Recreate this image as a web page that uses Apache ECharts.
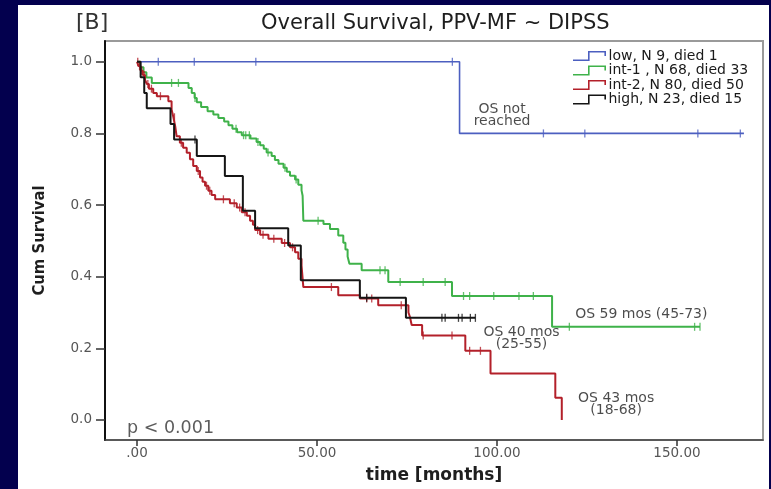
<!DOCTYPE html>
<html>
<head>
<meta charset="utf-8">
<script src="https://cdn.jsdelivr.net/npm/echarts@6/dist/echarts.min.js"></script>
<style>
html,body{margin:0;padding:0;background:#03004e;}
#chart{width:771px;height:489px;}
</style>
</head>
<body>
<div id="chart"></div>
<script>
// ---- data ----
const seriesNames = ['low, N 9, died 1', 'int-1 , N 68, died 33', 'int-2, N 80, died 50', 'high, N 23, died 15'];
const xTickValues = [0, 50, 100, 150];
const xTickLabels = ['.00', '50.00', '100.00', '150.00'];
const yTickValues = [0, 0.2, 0.4, 0.6, 0.8, 1.0];
const yTickLabels = ['0.0', '0.2', '0.4', '0.6', '0.8', '1.0'];

const lowCurve = [[0,1],[89.6,0.8],[168.6,0.8]];
const lowCensor = [[5.9,1],[15.9,1],[33,1],[87.6,1],[112.9,0.8],[124.4,0.8],[155.8,0.8],[167.6,0.8]];

const int1Curve = [[0,1],[0.8,0.985],[1.8,0.971],[2.6,0.956],[4.1,0.941],[14.3,0.927],[15.2,0.913],[16.0,0.899],[16.6,0.887],
  [17.8,0.874],[19.6,0.862],[21.2,0.853],[22.6,0.843],[24.2,0.833],[25.4,0.823],[26.5,0.813],[27.8,0.803],[29.1,0.795],
  [31.5,0.786],[33.2,0.776],[34.2,0.767],[35.2,0.757],[36.0,0.747],[37.4,0.737],[38.3,0.726],[39.3,0.715],[40.7,0.704],
  [41.6,0.693],[42.5,0.682],[43.9,0.671],[44.8,0.657],[45.7,0.641],[46.0,0.626],[46.2,0.556],[51.8,0.547],[53.6,0.533],
  [55.9,0.515],[57.3,0.495],[57.9,0.476],[58.5,0.456],[59.0,0.436],[62.4,0.418],[69.8,0.385],[87.5,0.346],[115.3,0.26],[156.4,0.26]];
const int1Censor = [[9.6,0.941],[11.5,0.941],[16.1,0.899],[27.5,0.813],[29.6,0.795],[30.2,0.795],[31.2,0.795],[33.6,0.776],
  [36.4,0.747],[41.1,0.704],[44.2,0.671],[50.3,0.556],[67.5,0.418],[68.9,0.418],[73.1,0.385],[79.5,0.385],[85.6,0.385],
  [90.7,0.346],[92.4,0.346],[99.1,0.346],[106.1,0.346],[110.1,0.346],[120.1,0.26],[154.9,0.26],[156.4,0.26]];

const int2Curve = [[0,1],[0.4,0.988],[1.0,0.975],[1.6,0.963],[2.2,0.950],[2.7,0.938],[3.3,0.925],[4.5,0.913],[5.5,0.904],
  [8.7,0.890],[9.6,0.867],[10.1,0.845],[10.6,0.820],[11.0,0.792],[11.9,0.774],[12.8,0.760],[13.8,0.746],[14.7,0.728],
  [15.6,0.709],[16.6,0.695],[17.5,0.677],[18.2,0.665],[18.9,0.654],[19.8,0.640],[20.7,0.628],[21.7,0.616],[25.8,0.605],
  [27.7,0.593],[29.1,0.580],[30.5,0.570],[31.4,0.556],[32.2,0.545],[32.8,0.530],[34.2,0.517],[36.5,0.506],[40.2,0.494],
  [42.5,0.482],[43.9,0.468],[44.8,0.450],[45.7,0.431],[46.2,0.371],[55.9,0.348],[61.9,0.339],[67.0,0.320],[75.4,0.300],
  [75.8,0.288],[76.3,0.265],[79.2,0.236],[91.2,0.193],[98.2,0.130],[116.2,0.062],[118.0,0.0]];
const int2Censor = [[0.2,1],[0.7,0.988],[1.3,0.975],[2.0,0.963],[3.0,0.938],[4.0,0.925],[6.5,0.904],[10.4,0.845],[12.3,0.774],
  [17.0,0.695],[19.3,0.654],[20.2,0.640],[24.0,0.616],[27.0,0.605],[28.5,0.593],[30.0,0.580],[33.5,0.530],[35.0,0.517],
  [38.0,0.506],[41.0,0.494],[43.2,0.482],[54.0,0.371],[63.8,0.339],[65.2,0.339],[73.4,0.320],[79.5,0.236],[87.5,0.236],
  [92.4,0.193],[95.4,0.193]];

const highCurve = [[0,1],[1.0,0.957],[2.0,0.913],[2.7,0.870],[9.3,0.826],[10.3,0.783],[16.6,0.737],[24.4,0.681],[29.4,0.584],
  [32.8,0.535],[42.0,0.487],[45.5,0.390],[61.9,0.341],[74.7,0.285],[94.0,0.285]];
const highCensor = [[16.1,0.783],[63.8,0.341],[84.7,0.285],[85.6,0.285],[89.3,0.285],[90.3,0.285],[92.6,0.285],[94.0,0.285]];

const annotations = [
  {text: 'OS not\nreached', t: 101.4, s: 0.851},
  {text: 'OS 59 mos (45-73)', t: 140.1, s: 0.294},
  {text: 'OS 40 mos\n(25-55)', t: 106.8, s: 0.228},
  {text: 'OS 43 mos\n(18-68)', t: 133.1, s: 0.043},
  {text: 'p < 0.001', t: 9.3, s: -0.025}
];

// ---- chart ----
const colors = ['#4c5fc0', '#3fb24a', '#b3202a', '#151515'];
const curves = [lowCurve, int1Curve, int2Curve, highCurve];
const censors = [lowCensor, int1Censor, int2Censor, highCensor];
const FONT = '"DejaVu Sans", "Liberation Sans", Arial, sans-serif';

const iconPath = 'path://M0,8.4 L15,8.4 L15,0 L33,0 L33,5 L31.4,5 L31.4,1.6 L16.6,1.6 L16.6,10 L0,10 Z';

const series = [];
curves.forEach((c, i) => {
  series.push({
    name: seriesNames[i], type: 'line', step: 'end', data: c, showSymbol: false,
    lineStyle: {color: colors[i], width: i === 0 ? 1.6 : 2}, itemStyle: {color: colors[i]},
    z: 3 + i, animation: false
  });
});
censors.forEach((c, i) => {
  series.push({
    name: seriesNames[i] + ' censored', type: 'scatter', data: c, symbol: 'rect', symbolSize: [1.3, 8],
    itemStyle: {color: colors[i]}, z: 3 + i, animation: false, silent: true
  });
});
series.push({
  name: 'annotations', type: 'scatter', symbolSize: 0, silent: true, animation: false, z: 10,
  data: annotations.map(a => ({value: [a.t, a.s], name: a.text})),
  label: {show: true, position: 'inside', formatter: p => p.name, color: '#1e1e1e',
    fontFamily: FONT, fontSize: 14, lineHeight: 12.5, align: 'center', verticalAlign: 'middle'}
});
// p value slightly larger
series[series.length - 1].data[4].label = {fontSize: 17.5, color: '#333'};

const chart = echarts.init(document.getElementById('chart'), null, {renderer: 'canvas'});
chart.setOption({
  backgroundColor: '#03004e',
  animation: false,
  graphic: [{type: 'rect', shape: {x: 18, y: 5, width: 751, height: 484}, style: {fill: '#ffffff'}, z: -10, silent: true}],
  title: [
    {text: '[B]', left: 71, top: 7, textStyle: {fontFamily: FONT, fontSize: 22, fontWeight: 'normal', color: '#333'}},
    {text: 'Overall Survival, PPV-MF ~ DIPSS', left: 256, top: 8, textStyle: {fontFamily: FONT, fontSize: 21, fontWeight: 'normal', color: '#1e1e1e'}}
  ],
  legend: {
    data: seriesNames, orient: 'vertical', left: 573, top: 49, padding: 0, itemGap: 0.5,
    itemWidth: 34, itemHeight: 10, icon: iconPath,
    textStyle: {fontFamily: FONT, fontSize: 14, color: '#1a1a1a', lineHeight: 14, padding: [0, 0, 0, -3]}
  },
  grid: {left: 105, top: 41, right: 8, bottom: 47, show: true, borderColor: '#9a9a9a', borderWidth: 2, backgroundColor: 'transparent'},
  xAxis: {
    type: 'value', min: -8.9, max: 173.9,
    name: 'time [months]', nameLocation: 'middle', nameGap: 27,
    nameTextStyle: {fontFamily: FONT, fontSize: 17, fontWeight: 'bold', color: '#1e1e1e'},
    axisLine: {show: true, onZero: false, lineStyle: {color: '#444', width: 1.5}},
    axisTick: {show: true, customValues: xTickValues, length: 6, lineStyle: {color: '#333', width: 1.5}},
    axisLabel: {customValues: xTickValues, formatter: v => xTickLabels[xTickValues.indexOf(v)], margin: 6,
      fontFamily: FONT, fontSize: 13.5, color: '#555'},
    splitLine: {show: false}
  },
  yAxis: {
    type: 'value', min: -0.056, max: 1.058,
    name: 'Cum Survival', nameLocation: 'middle', nameGap: 57,
    nameTextStyle: {fontFamily: '"Liberation Sans Narrow", "DejaVu Sans Condensed", Arial, sans-serif', fontSize: 16.5, fontWeight: 'bold', color: '#1e1e1e'},
    axisLine: {show: true, onZero: false, lineStyle: {color: '#111', width: 2}},
    axisTick: {show: true, customValues: yTickValues, length: 9, lineStyle: {color: '#333', width: 1.5}},
    axisLabel: {customValues: yTickValues, formatter: v => yTickLabels[yTickValues.indexOf(v)], margin: 13,
      fontFamily: FONT, fontSize: 13.5, color: '#555'},
    splitLine: {show: false}
  },
  series: series
});
</script>
</body>
</html>
